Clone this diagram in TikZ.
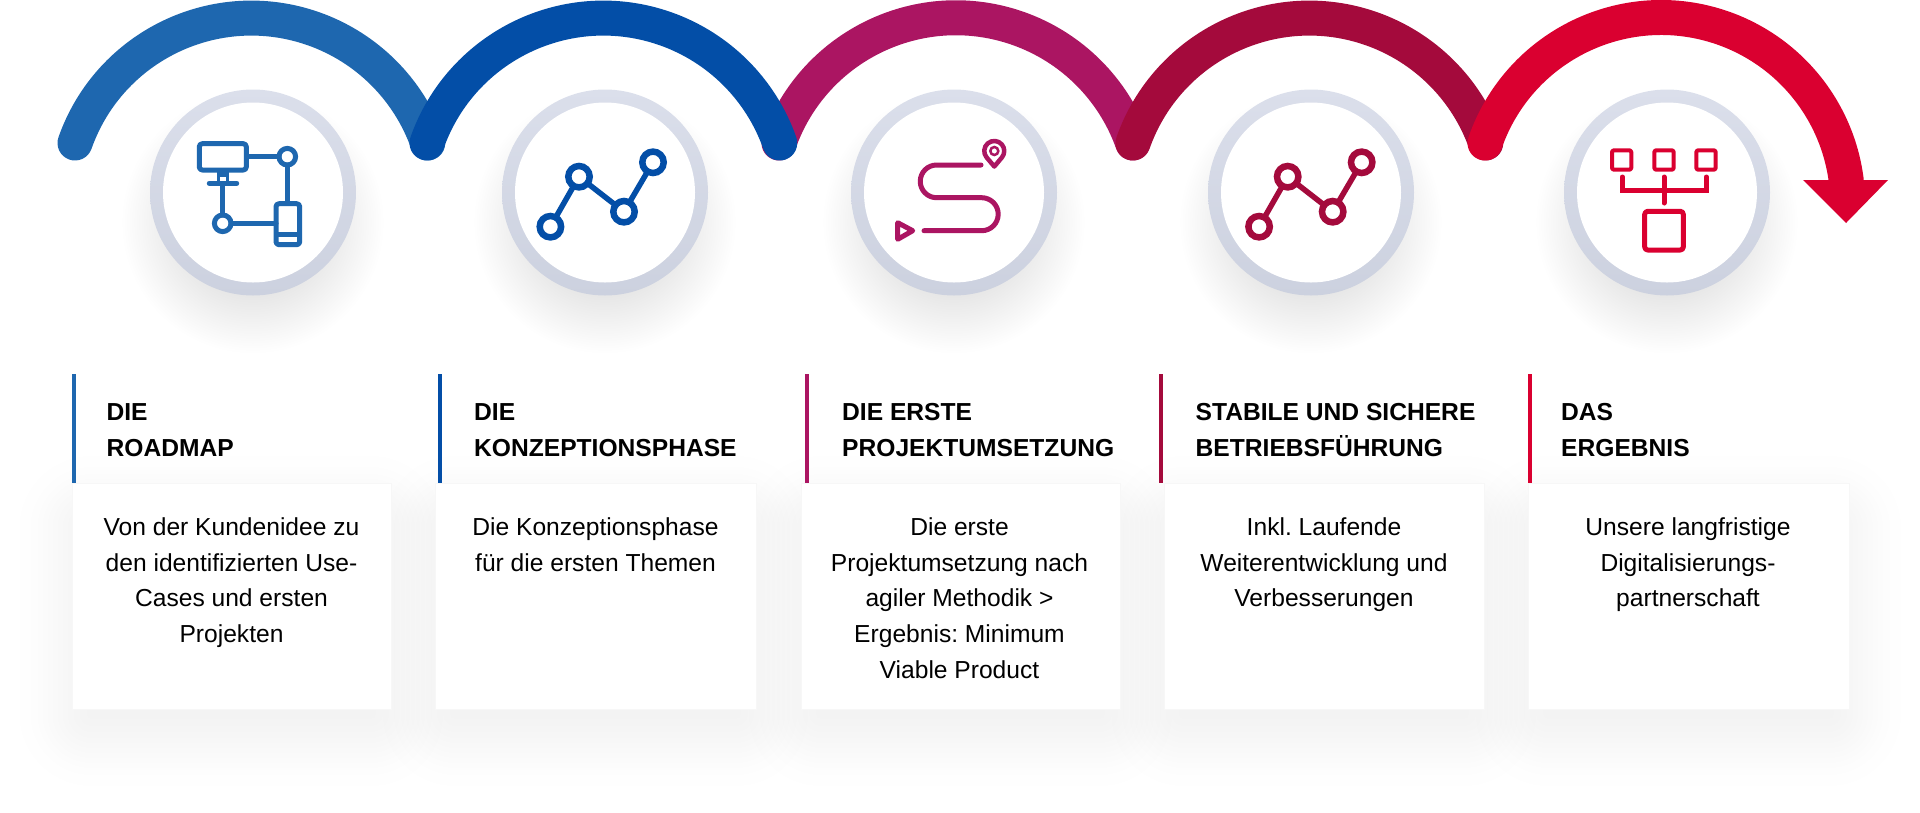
\documentclass[tikz,border=0pt]{standalone}
\usepackage{fontspec}
\setmainfont{Liberation Sans}
\frenchspacing
\usetikzlibrary{positioning,calc}
\definecolor{cRoad}{HTML}{1E67AF}
\definecolor{cKonz}{HTML}{034EA7}
\definecolor{cProj}{HTML}{AB1562}
\definecolor{cBetr}{HTML}{A40A3C}
\definecolor{cErg}{HTML}{DA0030}
\definecolor{cRingTop}{HTML}{DBDFEB}
\definecolor{cRingLow}{HTML}{CCD1DF}
\tikzset{
  swoop/.style={line width=35pt, line cap=round},
  hub/.style={circle, minimum size=206pt, inner sep=0pt, top color=cRingTop, bottom color=cRingLow,
    path picture={\fill[white] (path picture bounding box.center) circle[radius=90];}},
  card/.style={rectangle, draw=black!3, line width=0.5pt, fill=white, anchor=north west, minimum height=226pt, inner sep=0pt},
  body/.style={anchor=north, align=center, inner sep=0pt, font=\fontsize{24.6}{35.7}\selectfont},
  head/.style={anchor=north west, align=left, inner sep=0pt, font=\bfseries\fontsize{24.6}{35.7}\selectfont},
  bar/.style={line width=4pt},
  icon/.style={line width=5pt, line join=round, line cap=round},
  chart/.pic={
    \draw[icon, line width=5.5pt] (550.4,-226.7) -- (579,-176.7) -- (624,-211.7) -- (653,-162.3);
    \foreach \px/\py in {550.4/226.7, 579/176.7, 624/211.7, 653/162.3}
      \draw[line width=6.5pt, fill=white] (\px,-\py) circle[radius=10.7];
  },
}
% soft shadows, built up from thin layers
\newcommand{\hubshade}[2]{%
  \foreach \i in {1,...,28}
    \fill[black, opacity=0.004] (#1,-#2-30) circle[radius=133-2.4*\i];%
}
\newcommand{\cardshade}[2]{%
  \foreach \k in {-15,-8,-2,4,9,14,19,24,29,34,41,52} {
    \pgfmathsetmacro{\rad}{\k+20}
    \fill[black, opacity=0.004, rounded corners=\rad pt] (#1-\k,-483-25+\k) rectangle (#2+\k,-709-25-\k);
  }%
}
\begin{document}
\begin{tikzpicture}[x=1pt, y=1pt]
  \useasboundingbox (0,0) rectangle (1920,-812);

  \hubshade{253}{192.5}
  \hubshade{605}{192.5}
  \hubshade{954}{192.5}
  \hubshade{1311}{192.5}
  \hubshade{1667}{192.5}
  \cardshade{71.5}{391}
  \cardshade{435}{756}
  \cardshade{801}{1120}
  \cardshade{1163.5}{1484}
  \cardshade{1528}{1849}

  \coordinate (s1) at (75,-143);
  \coordinate (s2) at (427,-143);
  \coordinate (s3) at (779,-143);
  \coordinate (s4) at (1133,-143);
  \coordinate (s5) at (1485,-143);

  \draw[swoop, cRoad] (s1) arc[start angle=160.6, end angle=19.4, radius=187];
  \draw[swoop, cProj] (s3) arc[start angle=160.6, end angle=19.4, radius=187.5];
  \draw[swoop, cKonz] (s2) arc[start angle=160.6, end angle=19.4, radius=187];
  \draw[swoop, cBetr] (s4) arc[start angle=160.6, end angle=19.4, radius=187];
  \draw[swoop, cErg] (s5) arc[start angle=160.9, end angle=7.4, radius=186.5];
  \fill[cErg] (1803,-180) -- (1888,-180) -- (1846,-223) -- cycle;

  \node[hub] (hubA) at (253,-192.5) {};
  \node[hub] (hubB) at (605,-192.5) {};
  \node[hub] (hubC) at (954,-192.5) {};
  \node[hub] (hubD) at (1311,-192.5) {};
  \node[hub] (hubE) at (1667,-192.5) {};

  % roadmap icon
  \draw[icon, cRoad, rounded corners=3pt] (199.3,-143.7) rectangle (246.3,-170);
  \draw[icon, cRoad] (209.3,-183.3) -- (236.7,-183.3);
  \fill[cRoad] (216.5,-171) rectangle (229,-183);
  \fill[white] (220,-177.3) rectangle (226,-180.7);
  \draw[icon, cRoad] (222.7,-185) -- (222.7,-215);
  \draw[icon, cRoad] (231,-223.3) -- (276,-223.3);
  \draw[icon, cRoad] (248,-156.7) -- (279,-156.7);
  \draw[icon, cRoad] (287.3,-165) -- (287.3,-203);
  \draw[icon, cRoad] (222.7,-223.3) circle[radius=8.3];
  \draw[icon, cRoad] (287.3,-156.7) circle[radius=8.3];
  \draw[icon, cRoad, rounded corners=3pt] (276,-203.7) rectangle (299.7,-244.7);
  \draw[icon, cRoad, line cap=butt] (277,-234.3) -- (299,-234.3);

  \pic[cKonz] {chart};

  % route icon
  \draw[icon, cProj] (981,-165) -- (936.6,-165) arc[start angle=90, end angle=270, radius=16.35]
    -- (981.7,-197.7) arc[start angle=90, end angle=-90, radius=16.5] -- (924,-230.7);
  \draw[icon, cProj] (897.7,-222.7) -- (912.7,-230.7) -- (897.7,-239.3) -- cycle;
  \draw[icon, cProj, line width=4.5pt] (994.3,-166.5) -- (986.6,-157.4) arc[start angle=220, end angle=-40, radius=10] -- cycle;
  \draw[cProj, line width=2.5pt] (994.3,-151) circle[radius=4];

  \begin{scope}[xshift=708.7pt]
    \pic[cBetr] {chart};
  \end{scope}

  % result icon
  \draw[icon, cErg, line width=4pt, rounded corners=2pt] (1612,-150.3) rectangle (1631.3,-169.7);
  \draw[icon, cErg, line width=4pt, rounded corners=2pt] (1654.3,-150.3) rectangle (1673.7,-169.7);
  \draw[icon, cErg, line width=4pt, rounded corners=2pt] (1696.3,-150.3) rectangle (1715.7,-169.7);
  \draw[icon, cErg, line join=miter] (1622.3,-177) -- (1622.3,-190) -- (1706.3,-190) -- (1706.3,-177);
  \draw[icon, cErg] (1664,-177) -- (1664,-203);
  \draw[icon, cErg, rounded corners=3pt] (1644.7,-211.3) rectangle (1683.3,-250);

  \node[card, minimum width=319.5pt] (cardA) at (71.5,-483) {};
  \node[card, minimum width=321pt] (cardB) at (435,-483) {};
  \node[card, minimum width=319pt] (cardC) at (801,-483) {};
  \node[card, minimum width=320.5pt] (cardD) at (1163.5,-483) {};
  \node[card, minimum width=321pt] (cardE) at (1528,-483) {};

  \coordinate (barA) at (73.5,-374);
  \coordinate (barB) at (439.5,-374);
  \coordinate (barC) at (807,-374);
  \coordinate (barD) at (1161,-374);
  \coordinate (barE) at (1529.5,-374);
  \draw[bar, cRoad] (barA) -- (barA |- cardA.north);
  \draw[bar, cKonz] (barB) -- (barB |- cardB.north);
  \draw[bar, cProj] (barC) -- (barC |- cardC.north);
  \draw[bar, cBetr] (barD) -- (barD |- cardD.north);
  \draw[bar, cErg] (barE) -- (barE |- cardE.north);

  \node[head] (headA) at (106.4,-403.3) {DIE\\ROADMAP};
  \node[head] (headB) at (474,-403.3) {DIE\\KONZEPTIONSPHASE};
  \node[head] (headC) at (842,-403.3) {DIE ERSTE\\PROJEKTUMSETZUNG};
  \node[head] (headD) at (1195.5,-403.3) {STABILE UND SICHERE\\BETRIEBSFÜHRUNG};
  \node[head] (headE) at (1561,-403.3) {DAS\\ERGEBNIS};

  \node[body] (textA) at (231.5,-517.5) {Von der Kundenidee zu\\den identifizierten Use-\\Cases und ersten\\Projekten};
  \node[body] (textB) at (595.5,-517.5) {Die Konzeptionsphase\\für die ersten Themen};
  \node[body] (textC) at (959.5,-517.5) {Die erste\\Projektumsetzung nach\\agiler Methodik >\\Ergebnis: Minimum\\Viable Product};
  \node[body] (textD) at (1324,-517.5) {Inkl. Laufende\\Weiterentwicklung und\\Verbesserungen};
  \node[body] (textE) at (1688,-517.5) {Unsere langfristige\\Digitalisierungs-\\partnerschaft};
\end{tikzpicture}
\end{document}
